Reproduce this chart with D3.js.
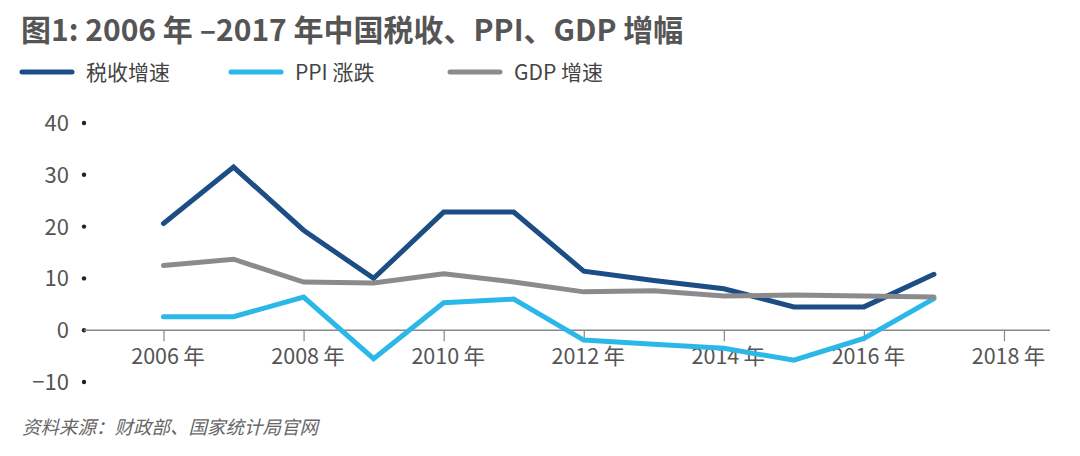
<!DOCTYPE html>
<html><head><meta charset="utf-8">
<script src="https://cdn.jsdelivr.net/npm/d3@7"></script>
<style>
body{margin:0;background:#fff;}
svg{display:block;font-family:"Noto Sans CJK SC","Noto Sans",sans-serif;}
</style></head>
<body><svg id="c" width="1080" height="456"></svg>
<script>
const years = [2006,2007,2008,2009,2010,2011,2012,2013,2014,2015,2016,2017];
const taxGrowth = [20.6,31.5,19.3,10.0,22.8,22.8,11.4,9.6,8.0,4.5,4.5,10.8];
const ppiChange = [2.6,2.6,6.4,-5.5,5.3,6.0,-1.9,-2.7,-3.5,-5.8,-1.6,6.1];
const gdpGrowth = [12.5,13.7,9.3,9.1,10.9,9.3,7.4,7.6,6.6,6.8,6.6,6.4];
const seriesNames = ["税收增速","PPI 涨跌","GDP 增速"];
const yTicks = [40,30,20,10,0,-10];
const xTicks = [2006,2008,2010,2012,2014,2016,2018];
const titleText = "图1: 2006 年 –2017 年中国税收、PPI、GDP 增幅";
const sourceText = "资料来源：财政部、国家统计局官网";

const colors = ["#1c4d84","#2bb8e8","#8b8b8d"];
const svg = d3.select("#c");

const x = d3.scaleLinear().domain([2006,2018]).range([163.5,1004]);
const y = d3.scaleLinear().domain([-10,40]).range([382,123]);

// title
svg.append("text").attr("x",21).attr("y",41).attr("font-size",30).attr("font-weight",700)
  .attr("fill","#555").text(titleText);

// legend
const legX = [22,231,450];
seriesNames.forEach((n,i)=>{
  svg.append("line").attr("x1",legX[i]).attr("x2",legX[i]+50).attr("y1",72).attr("y2",72)
    .attr("stroke",colors[i]).attr("stroke-width",5).attr("stroke-linecap","round");
  svg.append("text").attr("x",legX[i]+64).attr("y",79.5).attr("font-size",21)
    .attr("fill","#444").text(n);
});

// y axis dots and labels
const yg = svg.append("g");
yTicks.forEach(t=>{
  yg.append("circle").attr("cx",84).attr("cy",y(t)).attr("r",2.2).attr("fill","#222");
  yg.append("text").attr("x",69).attr("y",y(t)+8).attr("text-anchor","end")
    .attr("font-size",22).attr("fill","#555").text(t<0?"−"+Math.abs(t):t);
});

// x axis
const xAxis = d3.axisBottom(x).tickValues(xTicks).tickSize(11).tickPadding(8)
  .tickFormat(d=>d+"\u2009年");
const xg = svg.append("g").attr("transform",`translate(0,${y(0)})`).call(xAxis);
xg.select(".domain").remove();
xg.append("line").attr("x1",84).attr("x2",1050).attr("y1",0).attr("y2",0)
  .attr("stroke","#888").attr("stroke-width",1.5);
xg.selectAll(".tick line").attr("stroke","#888").attr("stroke-width",1.2);
xg.selectAll(".tick text").attr("font-size",21.5).attr("fill","#555")
  .attr("font-family",'"Noto Sans CJK SC","Noto Sans",sans-serif').attr("dx",4);

// lines
const line = d3.line().x((d,i)=>x(years[i])).y(d=>y(d));
[taxGrowth,ppiChange,gdpGrowth].forEach((s,i)=>{
  svg.append("path").datum(s).attr("d",line).attr("fill","none")
    .attr("stroke",colors[i]).attr("stroke-width",5)
    .attr("stroke-linejoin","miter").attr("stroke-linecap","round");
});

// source
svg.append("text").attr("x",22).attr("y",434).attr("font-size",18.5).attr("font-style","italic")
  .attr("fill","#666").text(sourceText);
</script></body></html>
